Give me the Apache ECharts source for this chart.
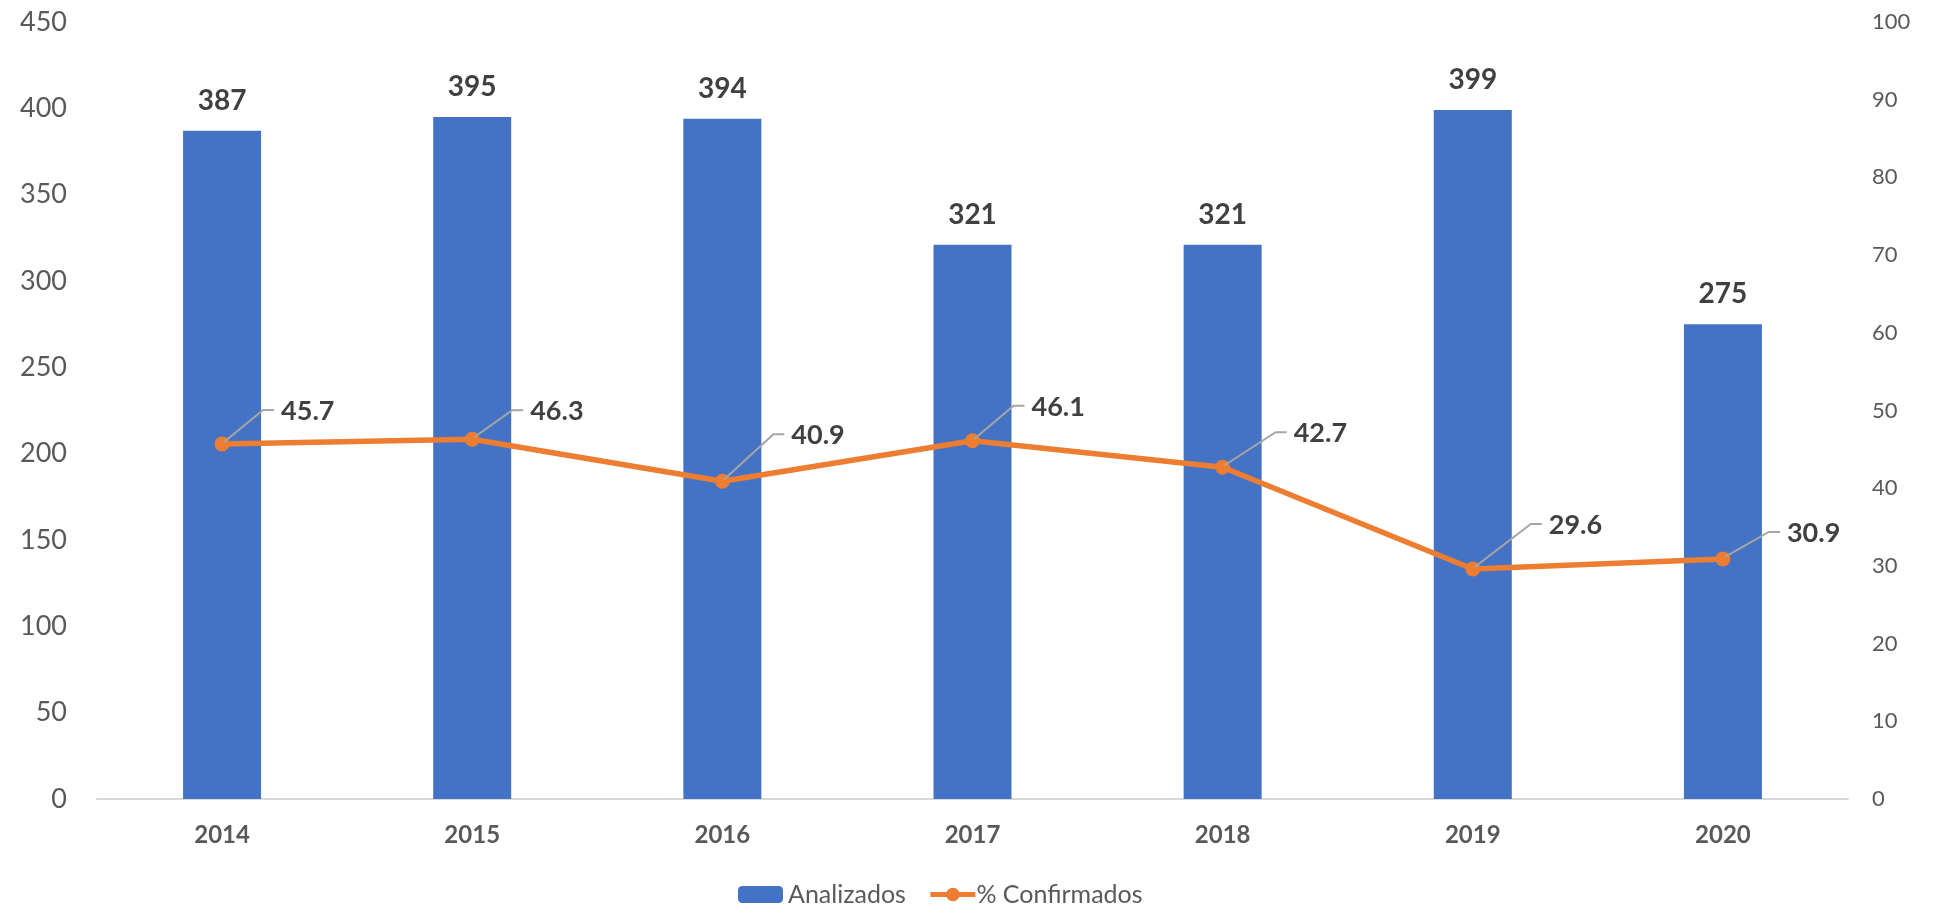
<!DOCTYPE html>
<html>
<head>
<meta charset="utf-8">
<script src="https://cdn.jsdelivr.net/npm/echarts@6/dist/echarts.min.js"></script>
<style>html,body{margin:0;padding:0;background:#fff;}#c{width:1934px;height:908px;}</style>
</head>
<body>
<div id="c"></div>
<script>
const years = ['2014', '2015', '2016', '2017', '2018', '2019', '2020'];
const analizados = [387, 395, 394, 321, 321, 399, 275];
const confirmados = [45.7, 46.3, 40.9, 46.1, 42.7, 29.6, 30.9];
const leftTicks = { min: 0, max: 450, interval: 50 };
const rightTicks = { min: 0, max: 100, interval: 10 };
// label leader offsets (style only): [dx, dy] of the elbow relative to the point
const labelOffsets = [[41, -34], [40, -29], [51, -47], [41, -35], [53, -35], [58, -45], [46, -27]];

const FONT = 'Lato, "Open Sans", sans-serif';
const chart = echarts.init(document.getElementById('c'), null, { renderer: 'canvas' });

chart.setOption({
  animation: false,
  backgroundColor: '#ffffff',
  grid: { left: 97, right: 86, top: 22, bottom: 109, containLabel: false },
  legend: {
    data: [
      { name: 'Analizados' },
      { name: '% Confirmados', lineStyle: { width: 5, color: '#ED7D31' }, itemStyle: { color: '#ED7D31' },
        textStyle: { padding: [0, 0, 0, -4] } }
    ],
    left: 733, top: 877,
    itemWidth: 45, itemHeight: 17, itemGap: 22,
    textStyle: { fontFamily: FONT, fontSize: 25, color: '#595959' }
  },
  xAxis: {
    type: 'category',
    data: years,
    axisLine: { lineStyle: { color: '#D9D9D9', width: 2 } },
    axisTick: { show: false },
    axisLabel: { fontFamily: FONT, fontSize: 24, fontWeight: 'bold', color: '#595959', margin: 24 }
  },
  yAxis: [
    {
      type: 'value', min: leftTicks.min, max: leftTicks.max, interval: leftTicks.interval,
      splitLine: { show: false }, axisLine: { show: false }, axisTick: { show: false },
      axisLabel: { fontFamily: FONT, fontSize: 27, color: '#595959', margin: 30 }
    },
    {
      type: 'value', min: rightTicks.min, max: rightTicks.max, interval: rightTicks.interval,
      splitLine: { show: false }, axisLine: { show: false }, axisTick: { show: false },
      axisLabel: { fontFamily: FONT, fontSize: 22, color: '#595959', margin: 24 }
    }
  ],
  series: [
    {
      name: 'Analizados', type: 'bar', data: analizados, barWidth: 78,
      itemStyle: { color: '#4472C4' },
      label: { show: true, position: 'top', distance: 16, fontFamily: FONT, fontSize: 28, fontWeight: 'bold', color: '#404040' }
    },
    {
      name: '% Confirmados', type: 'line', yAxisIndex: 1, data: confirmados,
      symbol: 'circle', symbolSize: 15,
      lineStyle: { color: '#ED7D31', width: 5.5 },
      itemStyle: { color: '#ED7D31' },
      z: 3
    },
    {
      name: 'labels', type: 'custom', yAxisIndex: 1,
      data: confirmados.map((v, i) => [i, v]),
      z: 5, silent: true,
      renderItem: function (params, api) {
        const p = api.coord([api.value(0), api.value(1)]);
        const o = labelOffsets[params.dataIndex];
        const kx = p[0] + o[0], ky = p[1] + o[1];
        return {
          type: 'group',
          children: [
            { type: 'polyline', shape: { points: [[p[0] + 2, p[1] - 2], [kx, ky], [kx + 11, ky]] },
              style: { stroke: '#A6A6A6', lineWidth: 2, fill: null } },
            { type: 'text', style: { x: kx + 18, y: ky + 1, text: String(confirmados[params.dataIndex]),
              font: 'bold 27px ' + FONT, fill: '#404040', textAlign: 'left', textVerticalAlign: 'middle' } }
          ]
        };
      }
    }
  ]
});
</script>
</body>
</html>
